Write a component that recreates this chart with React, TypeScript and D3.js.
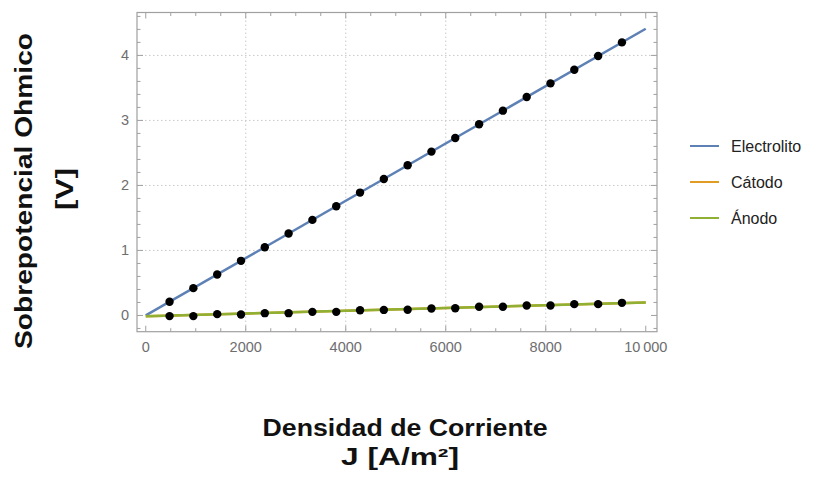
import * as d3 from "d3";

// datos
const densidad = [476, 952, 1429, 1905, 2381, 2857, 3333, 3810, 4286, 4762, 5238, 5714, 6190, 6667, 7143, 7619, 8095, 8571, 9048, 9524];
const electrolito = [0.21, 0.42, 0.63, 0.84, 1.05, 1.26, 1.47, 1.68, 1.89, 2.1, 2.31, 2.52, 2.73, 2.94, 3.15, 3.36, 3.57, 3.78, 3.99, 4.2];
const anodoPuntos = [-0.01, -0.01, 0.02, 0.015, 0.035, 0.035, 0.055, 0.055, 0.08, 0.085, 0.087, 0.107, 0.11, 0.133, 0.133, 0.153, 0.153, 0.174, 0.174, 0.194];

// rectas de ajuste
const ajusteX = [0, 10000];
const ajusteElectrolito = [0, 4.41];
const ajusteCatodo = [-0.012, 0.2];
const ajusteAnodo = [-0.012, 0.2];

const xTicks = [0, 2000, 4000, 6000, 8000, 10000];
const xTickLabels = ["0", "2000", "4000", "6000", "8000", "10\u2009000"];
const yTicks = [0, 1, 2, 3, 4];

const series = [
  { name: "Electrolito", color: "#5e81b5", values: ajusteElectrolito },
  { name: "Cátodo", color: "#e19c24", values: ajusteCatodo },
  { name: "Ánodo", color: "#8fb032", values: ajusteAnodo },
];

const W = 819;
const H = 477;
const frame = { left: 137, right: 657, top: 12.5, bottom: 331.7 };

export default function App() {
  const x = d3.scaleLinear().domain([-175, 10225]).range([frame.left, frame.right]);
  const y = d3.scaleLinear().domain([-0.25, 4.66]).range([frame.bottom, frame.top]);

  const line = d3
    .line<number>()
    .x((_, i) => x(ajusteX[i]))
    .y((d) => y(d));

  const xMinor = d3.range(0, 10001, 500);
  const yMinor = d3.range(-0.2, 4.61, 0.2);
  const font = "Liberation Sans, Arial, sans-serif";

  return (
    <svg width={W} height={H} style={{ position: "absolute", left: 0, top: 0 }}>
      <rect width={W} height={H} fill="#fff" />

      {/* rejilla punteada */}
      <g stroke="#c8c8c8" strokeWidth={1} strokeDasharray="1.5,2.5">
        {xTicks.slice(1, -1).map((t) => (
          <line key={"gx" + t} x1={x(t)} x2={x(t)} y1={frame.top} y2={frame.bottom} />
        ))}
        {yTicks.slice(1).map((t) => (
          <line key={"gy" + t} x1={frame.left} x2={frame.right} y1={y(t)} y2={y(t)} />
        ))}
      </g>

      {/* marcas menores y mayores */}
      <g stroke="#a0a0a0" strokeWidth={1}>
        {xMinor.map((t) => {
          const len = t % 2000 === 0 ? 6 : 3.5;
          return (
            <g key={"tx" + t}>
              <line x1={x(t)} x2={x(t)} y1={frame.bottom} y2={frame.bottom - len} />
              <line x1={x(t)} x2={x(t)} y1={frame.top} y2={frame.top + len} />
            </g>
          );
        })}
        {yMinor.map((t) => {
          const major = Math.abs(t - Math.round(t)) < 1e-6;
          const len = major ? 6 : 3.5;
          return (
            <g key={"ty" + t.toFixed(1)}>
              <line x1={frame.left} x2={frame.left + len} y1={y(t)} y2={y(t)} />
              <line x1={frame.right} x2={frame.right - len} y1={y(t)} y2={y(t)} />
            </g>
          );
        })}
      </g>

      <rect
        x={frame.left}
        y={frame.top}
        width={frame.right - frame.left}
        height={frame.bottom - frame.top}
        fill="none"
        stroke="#a0a0a0"
        strokeWidth={1.2}
      />

      {/* etiquetas de los ejes */}
      <g fontFamily={font} fontSize={14.5} fill="#6e6e6e">
        {xTicks.map((t, i) => (
          <text key={"lx" + t} x={x(t)} y={352} textAnchor="middle">
            {xTickLabels[i]}
          </text>
        ))}
        {yTicks.map((t) => (
          <text key={"ly" + t} x={129} y={y(t) + 5} textAnchor="end">
            {t}
          </text>
        ))}
      </g>

      {/* rectas */}
      {series.map((s) => (
        <path key={s.name} d={line(s.values) ?? ""} fill="none" stroke={s.color} strokeWidth={2.5} />
      ))}

      {/* puntos */}
      <g fill="#000">
        {densidad.map((d, i) => (
          <circle key={"e" + i} cx={x(d)} cy={y(electrolito[i])} r={4.2} />
        ))}
        {densidad.map((d, i) => (
          <circle key={"a" + i} cx={x(d)} cy={y(anodoPuntos[i])} r={4.2} />
        ))}
      </g>

      {/* leyenda */}
      <g fontFamily={font} fontSize={16} fill="#222">
        {series.map((s, i) => (
          <g key={"lg" + s.name} transform={`translate(690,${146 + i * 36})`}>
            <line x1={0} x2={29} y1={0} y2={0} stroke={s.color} strokeWidth={2} />
            <text x={41} y={5.5}>
              {s.name}
            </text>
          </g>
        ))}
      </g>

      {/* títulos */}
      <g fontFamily={font} fontWeight="bold" fontSize={23} fill="#111" textAnchor="middle">
        <text transform="translate(32,191) rotate(-90)" textLength={316} lengthAdjust="spacingAndGlyphs">
          Sobrepotencial Ohmico
        </text>
        <text transform="translate(73,189) rotate(-90)" textLength={42} lengthAdjust="spacingAndGlyphs">
          [V]
        </text>
        <text x={405} y={436} textLength={285} lengthAdjust="spacingAndGlyphs">
          Densidad de Corriente
        </text>
        <text x={400} y={465} textLength={118} lengthAdjust="spacingAndGlyphs">
          J [A/m²]
        </text>
      </g>
    </svg>
  );
}
